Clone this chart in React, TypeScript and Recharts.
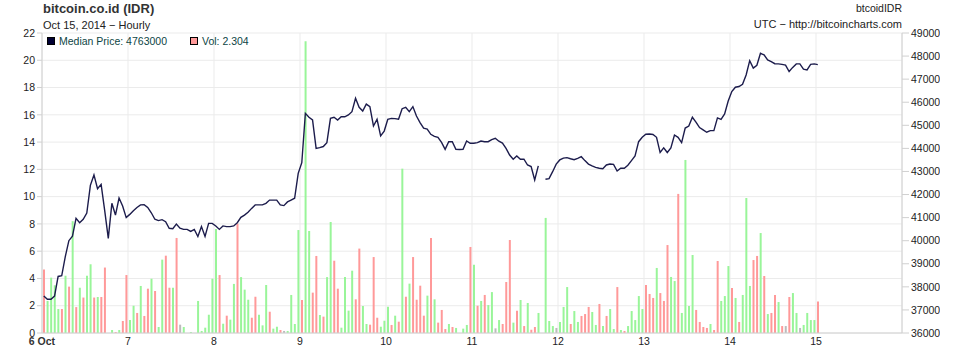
import React from 'react';
import { ComposedChart, Bar, Line, XAxis, YAxis, CartesianGrid, Cell } from 'recharts';

const dayLabels = ['6 Oct', '7', '8', '9', '10', '11', '12', '13', '14', '15'];
const dayTicks = [0, 24, 48, 72, 96, 120, 144, 168, 192, 216];
const volTicks = [0, 2, 4, 6, 8, 10, 12, 14, 16, 18, 20, 22];
const priceTicks = [3600000, 3700000, 3800000, 3900000, 4000000, 4100000, 4200000, 4300000, 4400000, 4500000, 4600000, 4700000, 4800000, 4900000];

const volumes = [
  4.65, 2.35, 4.06, 3.5, 1.76, 1.76, 4.2, 3.4, 8.2, 1.9,
  3.32, 2.6, 4.2, 5.04, 2.6, 2.64, 2.64, 4.8, 0, 0.22,
  0.07, 0.22, 0.88, 4.25, 0.95, 2.0, 1.47, 3.45, 1.25, 3.25,
  3.98, 3.08, 0.44, 5.38, 5.67, 3.32, 3.32, 6.97, 0.61, 0.44,
  0, 0.07, 0, 2.35, 0.15, 0.39, 1.34, 3.98, 7.63, 4.25,
  0.68, 1.27, 0.98, 3.6, 8.02, 4.1, 3.18, 2.44, 1.12, 2.66,
  1.34, 0.56, 3.52, 1.56, 0.32, 0.46, 0.22, 0.15, 0.15, 2.79,
  0.66, 7.55, 2.42, 21.4, 7.48, 2.96, 5.65, 1.32, 1.2, 4.1,
  8.14, 5.3, 3.25, 0.39, 4.1, 1.64, 4.57, 2.47, 6.19, 1.98,
  0.66, 0.61, 5.57, 1.12, 0.46, 0.9, 1.93, 0.59, 1.27, 0.83,
  12.05, 2.66, 3.62, 5.57, 2.44, 3.47, 1.27, 2.74, 6.97, 2.47,
  0.76, 1.69, 0.29, 0.66, 0.44, 0.37, 0, 0.32, 0.59, 6.31,
  5.01, 2.0, 2.35, 2.79, 2.05, 3.0, 0.34, 0.95, 0.66, 3.74,
  6.82, 0.76, 1.64, 2.42, 0.51, 2.2, 0.24, 0.44, 1.47, 0,
  8.44, 0.88, 0.51, 0.37, 0.81, 1.91, 3.37, 0.66, 1.61, 0.81,
  1.25, 1.39, 1.91, 1.54, 0.59, 2.13, 0.51, 1.25, 1.76, 0.29,
  3.37, 0.22, 0.15, 0.51, 1.61, 0.95, 2.71, 1.76, 3.52, 2.86,
  2.57, 4.77, 2.93, 2.35, 6.45, 4.11, 3.81, 10.2, 1.47, 12.69,
  1.98, 5.72, 1.69, 0.81, 0.44, 0.37, 0.66, 0.22, 5.28, 2.35,
  2.71, 4.91, 3.3, 2.57, 0.81, 2.79, 9.9, 3.45, 5.35, 5.65,
  7.33, 4.18, 1.39, 1.47, 2.79, 2.27, 0.51, 0.51, 2.64, 2.93,
  1.47, 0.37, 0.59, 1.47, 0.95, 0.95, 2.304,
];

// g = price up, r = price down, f = flat
const directions = (
  'rggggrgrgr' + 'grggrgrrfg' + 'rgrrggrgrr' + 'grggrrgrfg' + 'fgfggggggr' +
  'grggrgggrr' + 'gggrggrfgg' + 'ggrggrrgrg' + 'grrggggrrg' + 'grrrgggrgr' +
  'grgrrrrgrg' + 'rrrgrgfggr' + 'grgrggfgrr' + 'rgrgrgrrgf' + 'gggfgggrgg' +
  'rrrggrgrgg' + 'rgrgggggrr' + 'rgrrrggrgg' + 'ggrrrrgrrg' + 'ggrgrgggrr' +
  'grgrrgrfrg' + 'gfggggr'
).split('');

const prices: (number | null)[] = [
  3760000, 3746000, 3746000, 3760000, 3845000, 3848000, 3931000, 4000000, 4020000, 4097000,
  4078000, 4093000, 4120000, 4240000, 4285000, 4225000, 4244000, 4130000, 4010000, 4162000,
  4111000, 4185000, 4150000, 4100000, 4114000, 4130000, 4144000, 4155000, 4156000, 4144000,
  4121000, 4093000, 4087000, 4091000, 4082000, 4054000, 4052000, 4072000, 4054000, 4049000,
  4049000, 4040000, 4049000, 4018000, 4061000, 4018000, 4075000, 4075000, 4064000, 4049000,
  4064000, 4061000, 4061000, 4064000, 4078000, 4101000, 4111000, 4123000, 4140000, 4155000,
  4155000, 4155000, 4162000, 4176000, 4176000, 4176000, 4155000, 4152000, 4168000, 4176000,
  4184000, 4292000, 4338000, 4552000, 4535000, 4523000, 4400000, 4403000, 4408000, 4425000,
  4530000, 4535000, 4523000, 4537000, 4537000, 4545000, 4559000, 4617000, 4578000, 4562000,
  4592000, 4581000, 4497000, 4526000, 4454000, 4475000, 4526000, 4530000, 4529000, 4526000,
  4572000, 4578000, 4559000, 4581000, 4540000, 4512000, 4488000, 4484000, 4461000, 4452000,
  4448000, 4426000, 4396000, 4429000, 4429000, 4396000, 4395000, 4396000, 4432000, 4422000,
  4422000, 4425000, 4432000, 4429000, 4429000, 4438000, 4444000, 4431000, 4423000, 4400000,
  4371000, 4353000, 4367000, 4353000, 4353000, 4328000, 4321000, 4263000, 4324000, null,
  4266000, 4269000, 4299000, 4332000, 4350000, 4358000, 4360000, 4355000, 4351000, 4357000,
  4364000, 4347000, 4332000, 4324000, 4318000, 4314000, 4312000, 4328000, 4332000, 4331000,
  4302000, 4314000, 4314000, 4327000, 4347000, 4367000, 4429000, 4448000, 4461000, 4462000,
  4460000, 4448000, 4382000, 4402000, 4382000, 4402000, 4458000, 4448000, 4425000, 4488000,
  4497000, 4535000, 4514000, 4490000, 4480000, 4470000, 4477000, 4477000, 4532000, 4526000,
  4549000, 4605000, 4646000, 4665000, 4668000, 4678000, 4718000, 4780000, 4748000, 4760000,
  4812000, 4805000, 4783000, 4776000, 4767000, 4766000, 4764000, 4761000, 4733000, 4751000,
  4766000, 4766000, 4743000, 4740000, 4764000, 4766000, 4763000,
];

const dirColors: Record<string, string> = { g: '#99f599', r: '#ff9999', f: '#bbbbbb' };

const data = volumes.map((v, i) => ({
  hour: i + 0.5,
  vol: v,
  dir: directions[i],
  price: prices[i],
}));

const FONT = '"Liberation Sans", Arial, Helvetica, sans-serif';

const XTick = (props: any) => {
  const { x, y, payload } = props;
  const idx = Math.round(payload.value / 24);
  return (
    <text x={x} y={y} dy={4} textAnchor="middle" fontSize={10.5} fontFamily={FONT}
      fontWeight={idx === 0 ? 'bold' : 'normal'} fill={idx === 0 ? '#333' : '#222'}>
      {dayLabels[idx]}
    </text>
  );
};

const lastPrice = prices[prices.length - 1];
const lastVol = volumes[volumes.length - 1];

export default function App() {
  return (
    <div style={{ position: 'absolute', left: 0, top: 0, width: 954, height: 357, background: '#fff', overflow: 'hidden' }}>
      <ComposedChart width={940} height={357} data={data} margin={{ top: 33, right: 0, bottom: 0, left: 0 }}>
        <CartesianGrid yAxisId="vol" stroke="#ebebeb" strokeWidth={1} />
        <XAxis dataKey="hour" type="number" domain={[0, 240]} ticks={dayTicks} interval={0}
          height={24} tickLine={false} tickSize={6} tickMargin={2} tick={<XTick />}
          axisLine={{ stroke: '#d0d0d0' }} allowDataOverflow />
        <YAxis yAxisId="vol" orientation="left" width={42} domain={[0, 22]} ticks={volTicks}
          interval={0} tickSize={5} tickMargin={2} axisLine={{ stroke: '#d0d0d0' }}
          tickLine={{ stroke: '#d0d0d0' }}
          tick={{ fontSize: 10.5, fill: '#222', fontFamily: FONT }} />
        <YAxis yAxisId="price" orientation="right" width={38} domain={[3600000, 4900000]}
          ticks={priceTicks} interval={0} tickSize={7} tickMargin={2}
          axisLine={{ stroke: '#d0d0d0' }} tickLine={{ stroke: '#d0d0d0' }}
          tick={{ fontSize: 10.5, fill: '#222', fontFamily: FONT, textAnchor: 'start' }} />
        <Bar yAxisId="vol" dataKey="vol" barSize={2} isAnimationActive={false}>
          {data.map((d, i) => (
            <Cell key={i} fill={dirColors[d.dir]} />
          ))}
        </Bar>
        <Line yAxisId="price" dataKey="price" type="linear" stroke="#1c1c4c" strokeWidth={1.4}
          dot={false} activeDot={false} connectNulls={false} isAnimationActive={false} />
      </ComposedChart>
      <svg width={954} height={357} style={{ position: 'absolute', left: 0, top: 0, pointerEvents: 'none' }}>
        <text x={43} y={13} fontFamily={FONT} fontSize={13} fontWeight="bold" fill="#333">bitcoin.co.id (IDR)</text>
        <text x={43} y={29} fontFamily={FONT} fontSize={11} fill="#222">Oct 15, 2014 − Hourly</text>
        <text x={902} y={12} textAnchor="end" fontFamily={FONT} fontSize={10.5} fill="#222">btcoidIDR</text>
        <text x={902} y={28} textAnchor="end" fontFamily={FONT} fontSize={11} fill="#222">UTC − http://bitcoincharts.com</text>
        <rect x={47.5} y={37.5} width={7} height={7} fill="#000033" stroke="#000" strokeWidth={1} />
        <text x={59} y={45} fontFamily={FONT} fontSize={10.5} fill="#0d4545">{`Median Price: ${lastPrice}`}</text>
        <rect x={190.5} y={37.5} width={7} height={7} fill="#ff9999" stroke="#000" strokeWidth={1} />
        <text x={202} y={45} fontFamily={FONT} fontSize={10.5} fill="#0d4545">{`Vol: ${lastVol}`}</text>
      </svg>
    </div>
  );
}
